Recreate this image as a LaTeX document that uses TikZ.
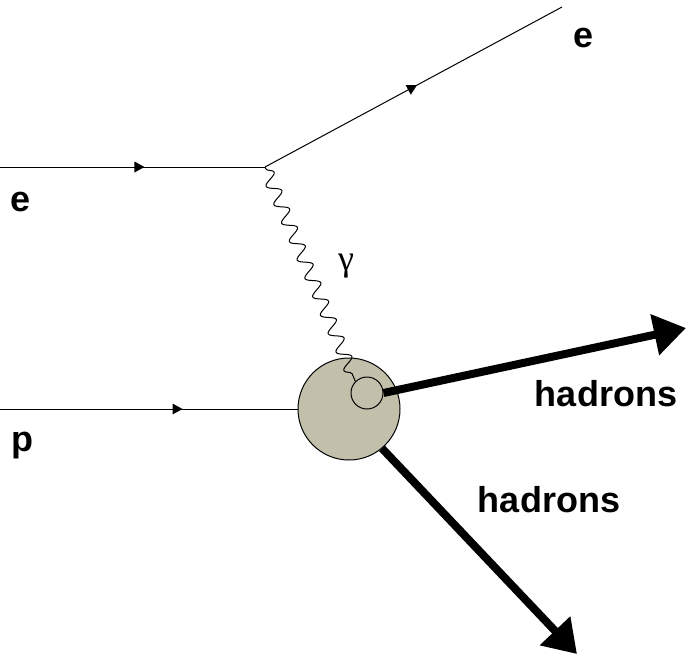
\documentclass[tikz,border=0pt]{standalone}
\usepackage{fontspec}
\setmainfont{Liberation Sans}
\newfontfamily\greekfont{Liberation Serif}
\usetikzlibrary{arrows.meta,decorations.pathmorphing,decorations.markings}
\definecolor{blobfill}{RGB}{194,192,171}
\tikzset{
  fermion/.style={line width=1pt, postaction={decorate}, decoration={markings,
      mark=at position #1 with {\fill (4pt,0) -- (-6pt,5.5pt) -- (-6pt,-5.5pt) -- cycle;}}},
  photon/.style={line width=1pt, decorate, decoration={snake, segment length=20pt, amplitude=6.5pt, pre length=2pt, post length=2pt}},
  hadron/.style={line width=8pt, -{Triangle[length=32pt,width=40pt]}},
  lbl/.style={font=\fontsize{36}{40}\selectfont\bfseries, inner sep=0pt},
}
\begin{document}
\begin{tikzpicture}[x=1pt,y=-1pt]
\useasboundingbox (0,0) rectangle (686,659);
\coordinate (ein) at (0,167);
\coordinate (v) at (265,167);
\coordinate (eout) at (562,7);
\coordinate (pin) at (0,409);
\coordinate (t1) at (686,328);
\coordinate (t2) at (577,654);
\node[circle, draw, line width=1pt, fill=blobfill, minimum size=102pt, inner sep=0pt] (blob) at (349,409) {};
\node[circle, draw, line width=1pt, minimum size=32pt, inner sep=0pt] (sc) at (367,393) {};
\draw[fermion=0.53] (ein) -- (v);
\draw[fermion=0.5] (v) -- (eout);
\draw[fermion=0.6] (pin) -- (blob.west);
\draw[photon] (v) -- (sc.135);
\draw[hadron] (sc.east) -- (t1);
\draw[hadron] (blob.-50) -- (t2);
\node[lbl] (le1) at (584,38) {e};
\node[lbl] (le2) at (21,202) {e};
\node[lbl] (lp) at (22,446) {p};
\node[font=\greekfont\fontsize{36}{40}\selectfont, inner sep=0pt] (lg) at (346,266) {γ};
\node[lbl] (lh1) at (606,394) {hadrons};
\node[lbl] (lh2) at (549,500) {hadrons};
\end{tikzpicture}
\end{document}
